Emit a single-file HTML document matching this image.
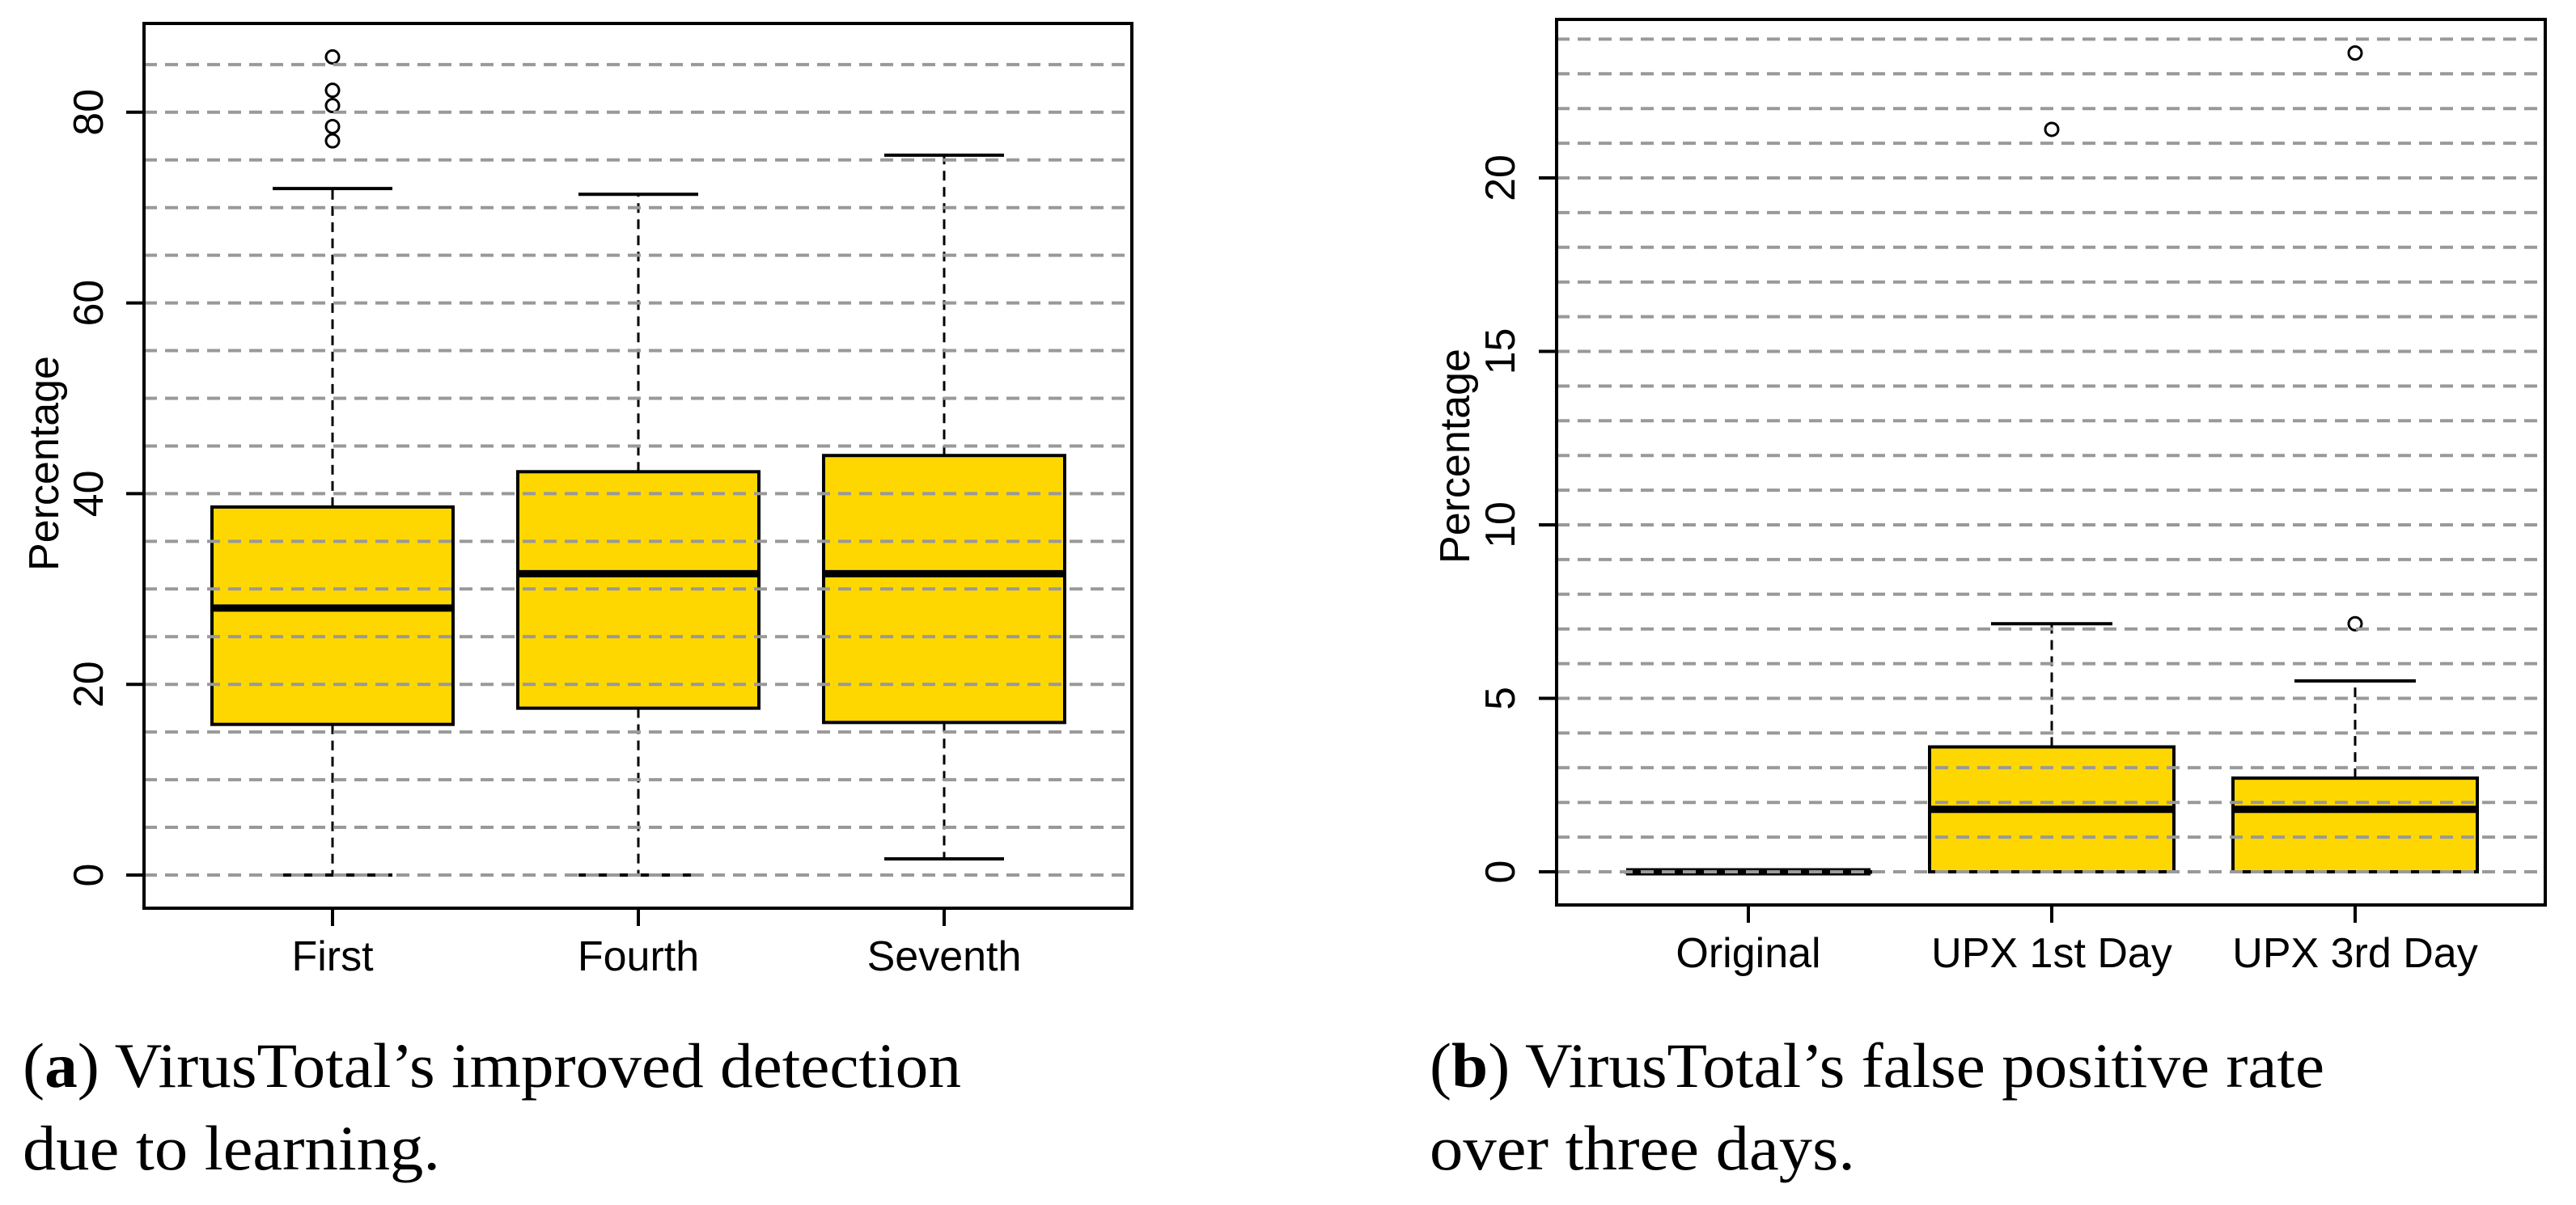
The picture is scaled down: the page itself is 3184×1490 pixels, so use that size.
<!DOCTYPE html>
<html><head><meta charset="utf-8"><style>
html,body{margin:0;padding:0;background:#fff;}
svg{display:block;}
</style></head><body>
<svg id="fig" xmlns="http://www.w3.org/2000/svg" width="3184" height="1490" viewBox="0 0 3184 1490">
<rect width="3184" height="1490" fill="#fff"/>
<g id="chartA"></g>
<g id="chartB"></g>
<g font-family="Liberation Serif, serif" font-size="78" fill="#000">
<text x="28" y="1344" textLength="1160" lengthAdjust="spacingAndGlyphs">(<tspan font-weight="bold">a</tspan>) VirusTotal’s improved detection</text>
<text x="28" y="1446" textLength="516" lengthAdjust="spacingAndGlyphs">due to learning.</text>
<text x="1767" y="1344" textLength="1106" lengthAdjust="spacingAndGlyphs">(<tspan font-weight="bold">b</tspan>) VirusTotal’s false positive rate</text>
<text x="1767" y="1446" textLength="526" lengthAdjust="spacingAndGlyphs">over three days.</text>
</g>
</svg>
<script>
// Chart A data
const catsA = ["First", "Fourth", "Seventh"];
const q1A = [15.8, 17.5, 16.0];
const medA = [28.0, 31.6, 31.6];
const q3A = [38.6, 42.3, 44.0];
const loA = [0, 0, 1.7];
const hiA = [72.0, 71.4, 75.5];
const outA = [[77.0, 78.5, 80.7, 82.3, 85.8], [], []];
const ticksA = [0, 20, 40, 60, 80];
const gridA = [0,5,10,15,20,25,30,35,40,45,50,55,60,65,70,75,80,85];
// Chart B data
const catsB = ["Original", "UPX 1st Day", "UPX 3rd Day"];
const q1B = [0, 0, 0];
const medB = [0, 1.8, 1.8];
const q3B = [0, 3.6, 2.7];
const loB = [0, 0, 0];
const hiB = [0, 7.15, 5.5];
const outB = [[], [21.4], [7.15, 23.6]];
const ticksB = [0, 5, 10, 15, 20];
const gridB = [0,1,2,3,4,5,6,7,8,9,10,11,12,13,14,15,16,17,18,19,20,21,22,23,24];

const NS = "http://www.w3.org/2000/svg";
function mk(parent, tag, attrs, text) {
  const e = document.createElementNS(NS, tag);
  for (const k in attrs) e.setAttribute(k, attrs[k]);
  if (text !== undefined) e.textContent = text;
  parent.appendChild(e);
  return e;
}
function draw(g, cfg) {
  const yS = v => cfg.y0 - v * cfg.ppu;
  const xS = i => cfg.cx0 + i * cfg.step;
  // boxes
  cfg.cats.forEach((c, i) => {
    const cx = xS(i), hw = cfg.hw, cw = cfg.cw;
    const bg = mk(g, "g", {});
    
    
    mk(bg, "line", {x1: cx, x2: cx, y1: yS(cfg.q3[i]), y2: yS(cfg.hi[i]), stroke: "#000", "stroke-width": 3, "stroke-dasharray": "12 8"});
    mk(bg, "line", {x1: cx, x2: cx, y1: yS(cfg.q1[i]), y2: yS(cfg.lo[i]), stroke: "#000", "stroke-width": 3, "stroke-dasharray": "12 8"});
    mk(bg, "line", {x1: cx - cw, x2: cx + cw, y1: yS(cfg.hi[i]), y2: yS(cfg.hi[i]), stroke: "#000", "stroke-width": 4});
    mk(bg, "line", {x1: cx - cw, x2: cx + cw, y1: yS(cfg.lo[i]), y2: yS(cfg.lo[i]), stroke: "#000", "stroke-width": 4});
    const h = Math.max(0.5, yS(cfg.q1[i]) - yS(cfg.q3[i]));
    mk(bg, "rect", {x: cx - hw, y: yS(cfg.q3[i]), width: 2 * hw, height: h, fill: "#FFD700", stroke: "#000", "stroke-width": 4});
    mk(bg, "line", {x1: cx - hw, x2: cx + hw, y1: yS(cfg.med[i]), y2: yS(cfg.med[i]), stroke: "#000", "stroke-width": 9});
    cfg.out[i].forEach(v => {
      const o = mk(bg, "circle", {cx: cx, cy: yS(v), r: 8, fill: "none", stroke: "#000", "stroke-width": 3});
      
      
    });
    mk(g, "line", {x1: cx, x2: cx, y1: cfg.B, y2: cfg.B + 22, stroke: "#000", "stroke-width": 4});
    const t = mk(g, "text", {x: cx, y: cfg.B + 77, "text-anchor": "middle", "font-family": "Liberation Sans, sans-serif", "font-size": 52}, c);
    
    
  });
  // grid drawn over boxes
  cfg.grid.forEach(v => {
    const l = mk(g, "line", {x1: cfg.L, x2: cfg.R, y1: yS(v), y2: yS(v), stroke: "#999", "stroke-width": 4, "stroke-dasharray": "16 10"});
    
    
  });
  // y ticks
  cfg.ticks.forEach(v => {
    mk(g, "line", {x1: cfg.L - 22, x2: cfg.L, y1: yS(v), y2: yS(v), stroke: "#000", "stroke-width": 4});
    const t = mk(g, "text", {x: 0, y: 0, "text-anchor": "middle", "font-family": "Liberation Sans, sans-serif", "font-size": 52, transform: `translate(${cfg.labX},${yS(v)}) rotate(-90)`}, String(v));
    
    
  });
  const yt = mk(g, "text", {x: 0, y: 0, "text-anchor": "middle", "font-family": "Liberation Sans, sans-serif", "font-size": 52, transform: `translate(${cfg.titX},${cfg.titY}) rotate(-90)`}, "Percentage");
  
  
  const fr = mk(g, "rect", {x: cfg.L, y: cfg.T, width: cfg.R - cfg.L, height: cfg.B - cfg.T, fill: "none", stroke: "#000", "stroke-width": 4});
  
  
}
draw(document.getElementById("chartA"), {
  L: 178, R: 1399, T: 29, B: 1123, y0: 1082, ppu: 11.79, cx0: 411, step: 378, hw: 149, cw: 74,
  labX: 127, titX: 72, titY: 573,
  cats: catsA, q1: q1A, med: medA, q3: q3A, lo: loA, hi: hiA, out: outA, ticks: ticksA, grid: gridA
});
draw(document.getElementById("chartB"), {
  L: 1924, R: 3146, T: 24, B: 1119, y0: 1078, ppu: 42.9, cx0: 2161, step: 375, hw: 151, cw: 75,
  labX: 1872, titX: 1816, titY: 564,
  cats: catsB, q1: q1B, med: medB, q3: q3B, lo: loB, hi: hiB, out: outB, ticks: ticksB, grid: gridB
});
</script>
</body></html>
